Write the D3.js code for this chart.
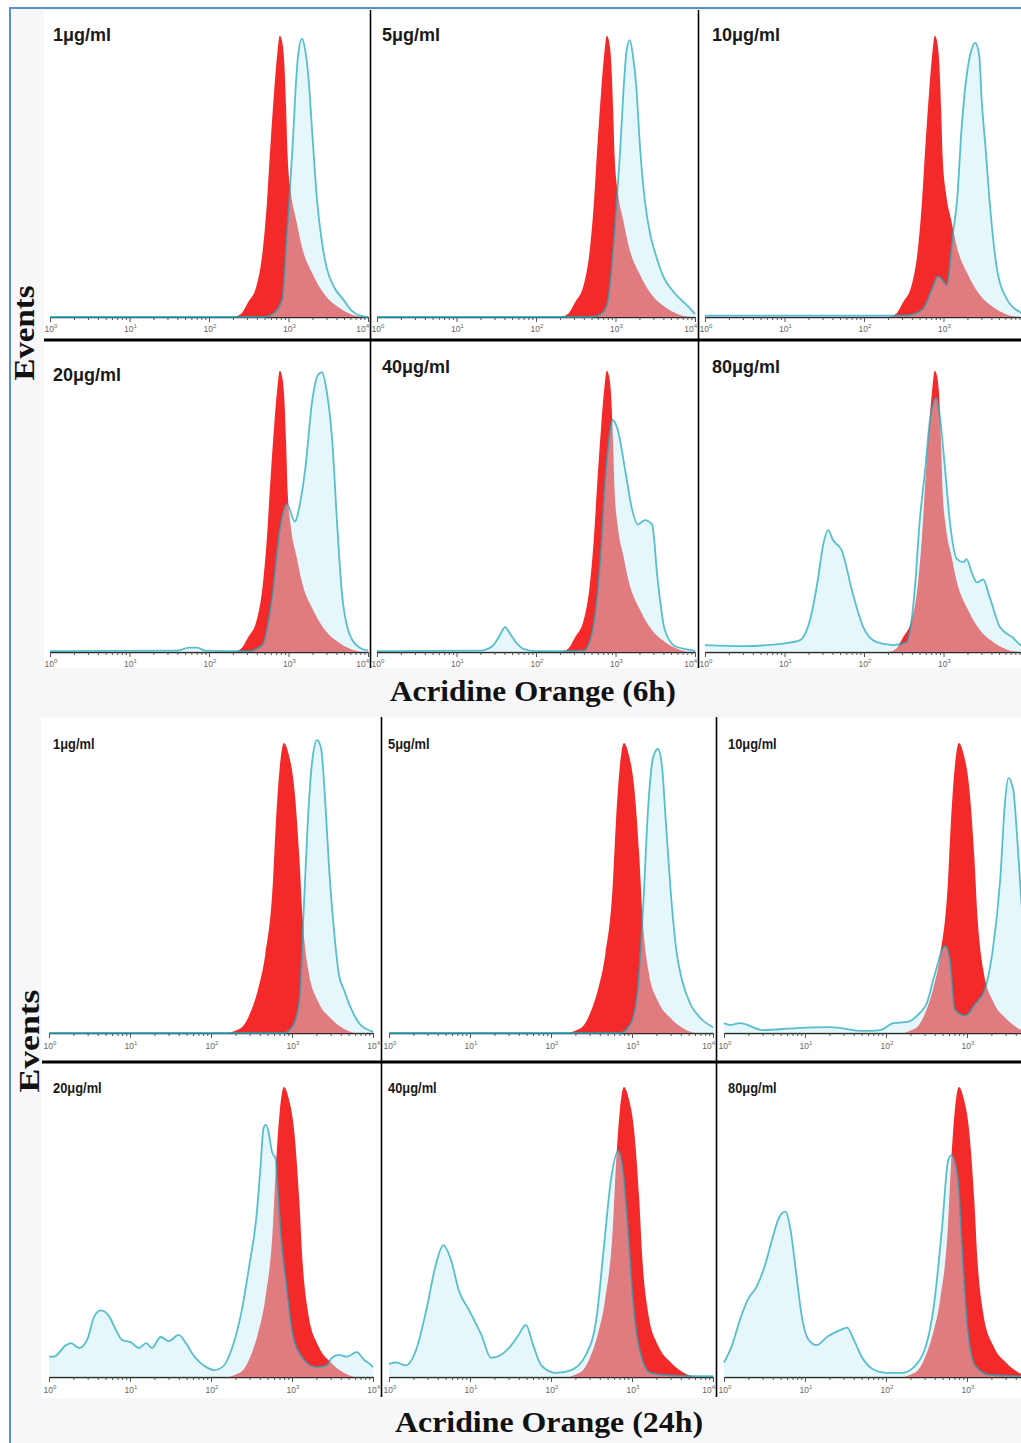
<!DOCTYPE html>
<html>
<head>
<meta charset="utf-8">
<script src="https://cdn.jsdelivr.net/npm/d3@7"></script>
<style>
  html, body { margin: 0; padding: 0; background: #fff; }
  svg { display: block; }
</style>
</head>
<body>
<svg id="fig" width="1021" height="1443"></svg>
<script>
// Histogram values: each point is [log10 fluorescence intensity, events (% of tallest peak)]
const doses = ["1μg/ml", "5μg/ml", "10μg/ml", "20μg/ml", "40μg/ml", "80μg/ml"];
const decadeExponents = [0, 1, 2, 3, 4];
const blockTitles = ["Acridine Orange (6h)", "Acridine Orange (24h)"];
const yTitle = "Events";

// untreated control (filled red)
const control6h = [[0,0],[2.3,0],[2.4,1],[2.49,5],[2.6,11],[2.68,24],[2.73,40],[2.77,58],[2.82,78],[2.86,91],[2.89,97],[2.92,95],[2.95,86],[2.97,72],[2.99,55],[3.03,43],[3.1,33],[3.17,24],[3.3,15],[3.46,7.5],[3.62,3.5],[3.78,1],[3.95,0],[4,0]];
const control24h = [[0,0],[2.2,0],[2.3,0.8],[2.4,2.5],[2.5,8],[2.58,15],[2.67,27],[2.76,50],[2.8,72],[2.85,92],[2.9,100],[2.96,96],[3.03,84],[3.09,61],[3.13,40],[3.2,22],[3.32,11],[3.48,5],[3.64,1.5],[3.8,0],[4,0]];

// treated samples, 6 h
const treated6h_1 = [[0,0],[2.7,0],[2.8,1],[2.92,6],[2.98,29],[3.02,45],[3.06,63],[3.09,79],[3.12,90],[3.17,96],[3.21,92],[3.25,83],[3.3,63],[3.36,40],[3.42,26],[3.48,17],[3.58,10],[3.69,6],[3.8,2],[3.9,0.5],[4,0]];
const treated6h_5 = [[0,0],[2.7,0],[2.82,1],[2.9,5],[2.97,23],[3.02,42],[3.06,58],[3.1,78],[3.14,92],[3.18,95.5],[3.22,90],[3.26,80],[3.31,58],[3.37,40],[3.44,28],[3.5,22],[3.6,14],[3.75,8],[3.9,4],[4,1]];
const treated6h_10 = [[0,0.5],[2.5,0.5],[2.67,1.4],[2.77,4],[2.86,10],[2.93,14],[2.98,13],[3.04,11],[3.12,29],[3.17,40],[3.23,66],[3.3,85],[3.35,92],[3.4,94.5],[3.45,90],[3.48,75],[3.53,58],[3.58,40],[3.67,17],[3.8,6],[3.96,1.7],[4,1]];
const treated6h_20 = [[0,0.3],[1.6,0.5],[1.75,1.5],[1.85,1.5],[1.95,0.5],[2.5,0.3],[2.67,2.4],[2.79,18],[2.89,42],[2.98,51],[3.08,45],[3.15,52],[3.21,63],[3.3,87],[3.37,95.5],[3.42,96.5],[3.48,90],[3.55,73],[3.61,45],[3.67,21],[3.77,6],[3.9,1.4],[4,0.5]];
const treated6h_40 = [[0,0.3],[1.3,0.5],[1.45,2],[1.55,6],[1.61,8.6],[1.68,6],[1.76,3],[1.85,1],[2.0,0.3],[2.6,0.5],[2.68,4],[2.81,32],[2.87,59],[2.93,76],[2.96,80],[3.03,76.5],[3.12,63],[3.21,49],[3.28,44],[3.37,45.5],[3.46,44],[3.53,25],[3.62,7.6],[3.75,2],[3.94,0.7],[4,0.3]];
const treated6h_80 = [[0,2.4],[0.5,2],[0.78,2.4],[1.0,3],[1.19,4],[1.32,11],[1.42,25],[1.48,36],[1.55,42],[1.61,38.6],[1.72,35],[1.86,20],[1.99,8.6],[2.16,3.4],[2.37,2.4],[2.54,3.4],[2.58,7.6],[2.64,22],[2.7,45],[2.77,63],[2.83,80],[2.91,87.6],[2.96,80],[3.02,63],[3.08,45],[3.17,32],[3.25,31],[3.29,32],[3.36,27],[3.42,24],[3.5,25],[3.58,19],[3.71,8.6],[3.87,5],[3.97,2.4],[4,2]];

// treated samples, 24 h
const treated24h_1 = [[0,0],[2.9,0],[3.0,2],[3.09,11],[3.15,46],[3.21,80],[3.25,94],[3.31,101],[3.36,98],[3.41,80],[3.46,56],[3.52,35],[3.58,20],[3.64,15],[3.72,9],[3.84,3],[4,0.5]];
const treated24h_5 = [[0,0],[2.85,0],[2.98,3],[3.07,15],[3.14,45],[3.2,78],[3.26,95],[3.32,98],[3.37,92],[3.42,72],[3.48,48],[3.55,28],[3.62,18],[3.72,10],[3.85,5],[4,2]];
const treated24h_10 = [[0,3.4],[0.07,2.8],[0.2,3.4],[0.48,1],[0.9,1.7],[1.31,2],[1.72,0.7],[1.93,1],[2.09,3.4],[2.26,3.8],[2.42,7],[2.5,10],[2.6,20],[2.73,30],[2.79,25],[2.85,8],[2.98,6],[3.1,10],[3.22,15],[3.32,29],[3.41,53],[3.47,80],[3.51,88],[3.57,84],[3.63,63],[3.67,46],[3.75,25],[3.85,10],[4,3]];
const treated24h_20 = [[0,7],[0.06,7],[0.21,11],[0.27,11.7],[0.37,10],[0.47,12.8],[0.56,21],[0.64,23],[0.74,21],[0.83,16],[0.9,12.8],[1.01,12],[1.11,10],[1.2,11.7],[1.27,10],[1.38,13.8],[1.48,12.4],[1.6,14.5],[1.69,11.7],[1.77,8],[1.94,3.4],[2.04,2.4],[2.14,3.4],[2.26,10],[2.38,23],[2.47,38],[2.56,55],[2.61,72],[2.65,86],[2.68,87],[2.72,83],[2.75,78],[2.8,75],[2.82,67],[2.86,50],[2.93,32],[3.0,16],[3.12,7],[3.3,3.4],[3.43,4],[3.49,6.6],[3.58,7.6],[3.68,7],[3.8,8.6],[3.89,5.9],[3.98,4],[4,3.4]];
const treated24h_40 = [[0,4.5],[0.09,5],[0.21,4],[0.33,9],[0.46,23],[0.58,39],[0.67,45.5],[0.77,40],[0.86,30],[0.99,23],[1.14,14.5],[1.26,6.6],[1.38,7.6],[1.51,11],[1.6,14.5],[1.69,18],[1.78,11],[1.88,4],[2.06,1.4],[2.25,2.4],[2.43,7.6],[2.56,20],[2.65,44],[2.74,68],[2.83,78],[2.89,71],[2.95,51],[3.01,27],[3.11,7.6],[3.23,1.4],[3.5,0.5],[4,0.3]];
const treated24h_80 = [[0,5],[0.1,11],[0.2,20],[0.3,27],[0.4,31],[0.5,38],[0.6,48],[0.68,55],[0.76,57],[0.82,51],[0.89,36],[0.96,21],[1.04,13],[1.14,11],[1.28,14],[1.42,16],[1.52,17],[1.6,13],[1.7,7],[1.85,2.5],[2.0,1.4],[2.2,1.4],[2.42,6],[2.6,26.5],[2.69,51],[2.77,75],[2.81,76.5],[2.89,68],[2.94,44],[3.01,16],[3.1,4],[3.28,0.7],[3.67,0.3],[4,0.3]];

// ---- page layout ----
const W = 1021, H = 1443;
const svg = d3.select("#fig");

svg.append("rect").attr("width", W).attr("height", H).attr("fill", "#ffffff");
svg.append("rect")
  .attr("x", 10).attr("y", 8).attr("width", W + 10).attr("height", H + 10)
  .attr("fill", "#f7f7f9").attr("stroke", "#5b8ed0").attr("stroke-width", 2);

const blocks = [
  {
    title: blockTitles[0], control: control6h,
    treated: [treated6h_1, treated6h_5, treated6h_10, treated6h_20, treated6h_40, treated6h_80],
    area: {x: 44, y: 10, w: W, h: 658},
    cols: [[44, 370], [371, 698], [699, 1030]],
    rows: [{top: 10, bottom: 339, base: 317}, {top: 341, bottom: 668, base: 652}],
    pad: 6, span: 318, tickLabelDy: 15,
    label: {size: 18, dx: [9, 11, 13], dy: [[31, 31, 31], [40, 32, 32]], squeeze: null},
    sep: 340, titleXY: [533, 701], titleLen: 286,
    yTitleXY: [24, 333], yTitleLen: 95
  },
  {
    title: blockTitles[1], control: control24h,
    treated: [treated24h_1, treated24h_5, treated24h_10, treated24h_20, treated24h_40, treated24h_80],
    area: {x: 41, y: 717, w: W, h: 681},
    cols: [[42, 381], [382, 716], [717, 1055]],
    rows: [{top: 717, bottom: 1061, base: 1033}, {top: 1063, bottom: 1397, base: 1377}],
    pad: 7, span: 324, tickLabelDy: 16,
    label: {size: 15, dx: [11, 6, 11], dy: [[32, 32, 32], [30, 30, 30]], squeeze: 0.86},
    sep: 1062, titleXY: [549, 1432], titleLen: 308,
    yTitleXY: [29, 1041], yTitleLen: 103
  }
];

const minorTicks = [];
decadeExponents.slice(0, -1).forEach(e => {
  for (let m = 1; m <= 9; m++) minorTicks.push(m * Math.pow(10, e));
});
minorTicks.push(Math.pow(10, 4));
const majorTicks = decadeExponents.map(e => Math.pow(10, e));
const lastExp = decadeExponents[decadeExponents.length - 1];

const RED = "#f42a2a";
const CYAN_FILL = "rgba(196,237,247,0.42)";
const CYAN_LINE = "rgba(28,166,186,0.72)";

blocks.forEach((blk, bi) => {
  // white panel area
  svg.append("rect")
    .attr("x", blk.area.x).attr("y", blk.area.y)
    .attr("width", blk.area.w - blk.area.x).attr("height", blk.area.h)
    .attr("fill", "#ffffff");

  blk.rows.forEach((row, ri) => {
    blk.cols.forEach((col, ci) => {
      const idx = ri * 3 + ci;
      const clipId = `clip-${bi}-${idx}`;
      svg.append("clipPath").attr("id", clipId)
        .append("rect")
        .attr("x", col[0]).attr("y", row.top)
        .attr("width", col[1] - col[0]).attr("height", row.bottom - row.top);

      const g = svg.append("g").attr("clip-path", `url(#${clipId})`);
      g.append("rect")
        .attr("x", col[0]).attr("y", row.top)
        .attr("width", col[1] - col[0]).attr("height", row.bottom - row.top)
        .attr("fill", "#ffffff");

      const x0 = col[0] + blk.pad;
      const x = d3.scaleLog().domain([1, 1e4]).range([x0, x0 + blk.span]);
      const y = d3.scaleLinear().domain([0, 100]).range([row.base, row.base - 290]);
      const px = d => x(Math.pow(10, d[0]));

      const area = d3.area().x(px).y0(row.base).y1(d => y(d[1])).curve(d3.curveMonotoneX);
      const line = d3.line().x(px).y(d => y(d[1])).curve(d3.curveMonotoneX);

      // axis along the baseline
      const axis = d3.axisBottom(x).tickValues(minorTicks).tickSizeInner(3).tickSizeOuter(0).tickFormat("");
      const ag = g.append("g").attr("transform", `translate(0,${row.base})`).call(axis);
      ag.select(".domain").attr("stroke", "#2a2a2a").attr("stroke-width", 1.6);
      ag.selectAll(".tick line").attr("stroke", "#444").attr("stroke-width", 0.9)
        .attr("y2", d => majorTicks.includes(d) ? 5 : 3);

      // decade labels; the top decade sits flush against the panel's right edge
      const shown = decadeExponents.filter(e => x(Math.pow(10, e)) < W - 6);
      const lab = g.append("g").selectAll("text").data(shown).join("text")
        .attr("x", e => e === lastExp ? col[1] - 1 : x(Math.pow(10, e)) + 1)
        .attr("y", row.base + blk.tickLabelDy)
        .attr("text-anchor", e => e === lastExp ? "end" : "middle")
        .attr("font-family", "Liberation Sans, Arial, sans-serif")
        .attr("font-size", 8.5)
        .attr("fill", "#666");
      lab.append("tspan").text("10");
      lab.append("tspan").attr("dy", -4.5).attr("font-size", 6).text(e => e);

      // control histogram
      g.append("path").datum(blk.control).attr("d", area).attr("fill", RED);
      // treated histogram
      const tr = blk.treated[idx];
      g.append("path").datum(tr).attr("d", area).attr("fill", CYAN_FILL);
      g.append("path").datum(tr).attr("d", line)
        .attr("fill", "none").attr("stroke", CYAN_LINE).attr("stroke-width", 1.8)
        .attr("stroke-linejoin", "round");

      // dose label
      const t = g.append("text")
        .attr("x", col[0] + blk.label.dx[ci])
        .attr("y", row.top + blk.label.dy[ri][ci])
        .attr("font-family", "Liberation Sans, Arial, sans-serif")
        .attr("font-weight", "bold")
        .attr("font-size", blk.label.size)
        .attr("fill", "#1a1a1a")
        .text(doses[idx]);
      if (blk.label.squeeze) {
        t.attr("transform", `translate(${col[0] + blk.label.dx[ci]},0) scale(${blk.label.squeeze},1) translate(${-(col[0] + blk.label.dx[ci])},0)`);
      }
    });
  });

  // frame lines
  svg.append("line")
    .attr("x1", blk.cols[0][0]).attr("x2", W)
    .attr("y1", blk.sep).attr("y2", blk.sep)
    .attr("stroke", "#000").attr("stroke-width", 3);
  blk.cols.slice(1).forEach(col => {
    svg.append("line")
      .attr("x1", col[0] - 0.5).attr("x2", col[0] - 0.5)
      .attr("y1", blk.rows[0].top).attr("y2", blk.rows[1].bottom)
      .attr("stroke", "#000").attr("stroke-width", 1.6);
  });

  // titles
  svg.append("text")
    .attr("x", blk.titleXY[0]).attr("y", blk.titleXY[1])
    .attr("text-anchor", "middle")
    .attr("font-family", "Liberation Serif, Times New Roman, serif")
    .attr("font-weight", "bold").attr("font-size", 29)
    .attr("textLength", blk.titleLen).attr("lengthAdjust", "spacingAndGlyphs")
    .attr("fill", "#111")
    .text(blk.title);

  svg.append("text")
    .attr("transform", `translate(${blk.yTitleXY[0]},${blk.yTitleXY[1]}) rotate(-90)`)
    .attr("text-anchor", "middle").attr("dy", "0.35em")
    .attr("font-family", "Liberation Serif, Times New Roman, serif")
    .attr("font-weight", "bold").attr("font-size", 29)
    .attr("textLength", blk.yTitleLen).attr("lengthAdjust", "spacingAndGlyphs")
    .attr("fill", "#111")
    .text(yTitle);
});
</script>
</body>
</html>
